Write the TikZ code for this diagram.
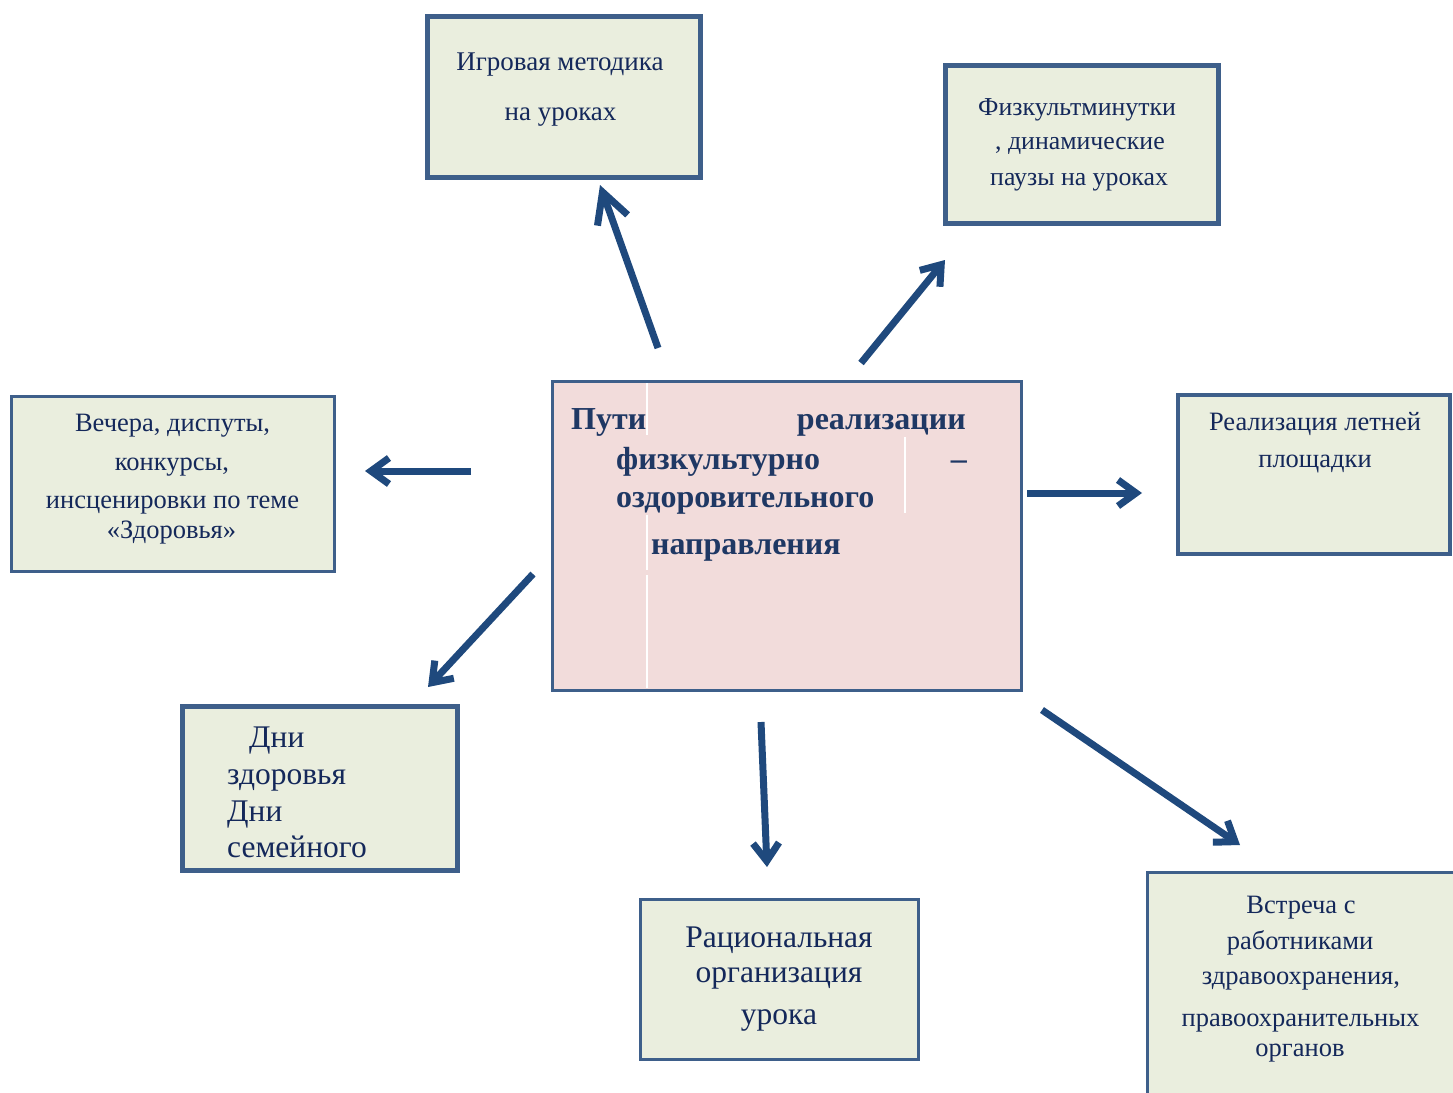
\documentclass[tikz,border=0pt]{standalone}
\usepackage{fontspec}
\setmainfont{Liberation Serif}
\usetikzlibrary{arrows.meta}
\definecolor{boxfill}{HTML}{EAEEDE}
\definecolor{centerfill}{HTML}{F2DCDB}
\definecolor{boxline}{HTML}{3E5F8A}
\definecolor{txt}{HTML}{14285A}
\definecolor{ctxt}{HTML}{1F3864}
\definecolor{arr}{HTML}{1F497D}
\begin{document}
\begin{tikzpicture}[x=1pt,y=-1pt,
 box/.style={draw=boxline, fill=boxfill, rectangle, inner sep=0pt, outer sep=0pt},
 lbl/.style={inner sep=0pt, text=txt, font=\fontsize{26.5}{30}\selectfont},
 biglbl/.style={inner sep=0pt, text=txt, font=\fontsize{31.5}{36}\selectfont},
 clbl/.style={inner sep=0pt, text=ctxt, font=\bfseries\fontsize{32}{36}\selectfont},
 arrowline/.style={draw=arr, line width=7pt, -{Straight Barb[length=18pt,width=26pt]}},
]
\useasboundingbox (0,0) rectangle (1453,1092);
\fill[white] (0,0) rectangle (1453,1092);

% boxes
\node[box, line width=5pt, minimum width=273pt, minimum height=161pt] (igr) at (563.5,96.5) {};
\node[box, line width=5pt, minimum width=273pt, minimum height=158pt] (fiz) at (1081.5,144) {};
\node[box, line width=3pt, minimum width=323pt, minimum height=175pt] (vech) at (172.5,483.5) {};
\node[box, fill=centerfill, line width=3pt, minimum width=469pt, minimum height=309pt] (cen) at (786.5,535.5) {};
\node[box, line width=4pt, minimum width=272pt, minimum height=159pt] (real) at (1314,474.5) {};
\node[box, line width=5pt, minimum width=275pt, minimum height=164pt] (dni) at (319.5,788) {};
\node[box, line width=3pt, minimum width=278pt, minimum height=160pt] (rac) at (779,979) {};
\node[box, line width=3pt, minimum width=323pt, minimum height=238pt] (vstr) at (1308.5,991) {};

% white cell lines in centre box
\draw[white, line width=1.5pt] (647,383) -- (647,435);
\draw[white, line width=1.5pt] (647,515) -- (647,570);
\draw[white, line width=1.5pt] (647,575) -- (647,688);
\draw[white, line width=1.5pt] (905,437) -- (905,513);

% texts
\node[lbl, font=\fontsize{27}{30}\selectfont, anchor=mid] (t1a) at (560,68) {Игровая методика};
\node[lbl, font=\fontsize{27}{30}\selectfont, anchor=mid] (t1b) at (560.5,118) {на уроках};

\node[lbl, font=\fontsize{25.8}{30}\selectfont, anchor=mid west] (t2a) at (978,113) {Физкультминутки};
\node[lbl, font=\fontsize{25.8}{30}\selectfont, anchor=mid west] (t2b) at (995,147) {, динамические};
\node[lbl, font=\fontsize{25.8}{30}\selectfont, anchor=mid west] (t2c) at (990,183) {паузы на уроках};

\node[lbl, anchor=mid] (t3a) at (172.5,429) {Вечера, диспуты,};
\node[lbl, anchor=mid] (t3b) at (172,468) {конкурсы,};
\node[lbl, anchor=mid] (t3c) at (172.5,506) {инсценировки по теме};
\node[lbl, anchor=mid] (t3d) at (171.5,536) {«Здоровья»};

\node[clbl, anchor=mid west] (c1) at (571,427) {Пути};
\node[clbl, anchor=mid east] (c2) at (966,427) {реализации};
\node[clbl, anchor=mid west] (c3) at (616,467) {физкультурно};
\node[clbl, anchor=mid east] (c4) at (967,467) {–};
\node[clbl, anchor=mid west] (c5) at (616,505) {оздоровительного};
\node[clbl, anchor=mid west] (c6) at (651,552) {направления};

\node[lbl, anchor=mid] (t5a) at (1315,428) {Реализация летней};
\node[lbl, anchor=mid] (t5b) at (1315,465) {площадки};

\node[biglbl, anchor=mid west] (t6a) at (249,745) {Дни};
\node[biglbl, anchor=mid west] (t6b) at (227,782) {здоровья};
\node[biglbl, anchor=mid west] (t6c) at (227,819) {Дни};
\node[biglbl, anchor=mid west] (t6d) at (227,855) {семейного};

\node[biglbl, anchor=mid] (t7a) at (779,945) {Рациональная};
\node[biglbl, anchor=mid] (t7b) at (779,980) {организация};
\node[biglbl, anchor=mid] (t7c) at (779,1022) {урока};

\node[lbl, anchor=mid] (t8a) at (1301,911) {Встреча с};
\node[lbl, anchor=mid] (t8b) at (1300,947) {работниками};
\node[lbl, anchor=mid] (t8c) at (1301,982) {здравоохранения,};
\node[lbl, anchor=mid] (t8d) at (1300.5,1024) {правоохранительных};
\node[lbl, anchor=mid] (t8e) at (1300,1054) {органов};

% arrow end points
\coordinate (a1s) at (658,348); \coordinate (a1e) at (600,185);
\coordinate (a2s) at (861,363); \coordinate (a2e) at (945,260);
\coordinate (a3s) at (471,471); \coordinate (a3e) at (365,471);
\coordinate (a4s) at (1027,493); \coordinate (a4e) at (1142,493);
\coordinate (a5s) at (533,574); \coordinate (a5e) at (428,687);
\coordinate (a6s) at (761,722); \coordinate (a6e) at (767,867);
\coordinate (a7s) at (1042,710); \coordinate (a7e) at (1240,845);

\draw[arrowline, -{Straight Barb[length=30pt,width=32pt]}] (a1s) -- (a1e);
\draw[arrowline] (a2s) -- (a2e);
\draw[arrowline] (a3s) -- (a3e);
\draw[arrowline] (a4s) -- (a4e);
\draw[arrowline] (a5s) -- (a5e);
\draw[arrowline] (a6s) -- (a6e);
\draw[arrowline] (a7s) -- (a7e);
\end{tikzpicture}
\end{document}
